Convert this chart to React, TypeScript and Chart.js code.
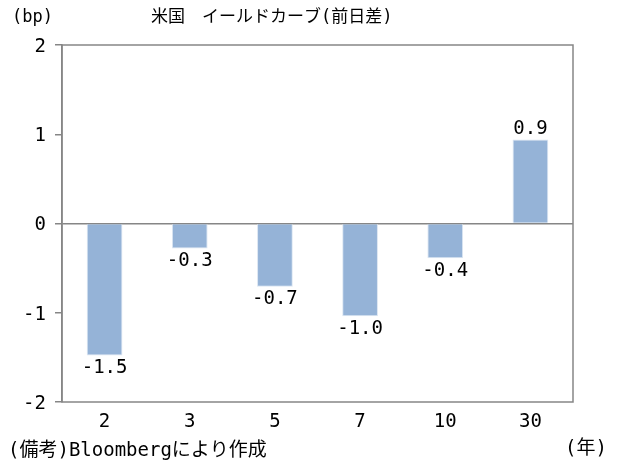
import React, { useEffect, useRef } from "react";
import { Chart, registerables } from "chart.js";

Chart.register(...registerables);

const categories = ["2", "3", "5", "7", "10", "30"];
const changes = [-1.48, -0.28, -0.71, -1.04, -0.39, 0.94];
const yTicks = [2, 1, 0, -1, -2];
const titleText = "米国　イールドカーブ(前日差)";
const unitText = "(bp)";
const noteText = "(備考)Bloombergにより作成";
const xUnitText = "(年)";

const FONT = "'DejaVu Sans Mono', 'Noto Sans CJK JP', monospace";

const textPlugin = {
  id: "textPlugin",
  afterDraw(chart: any) {
    const ctx = chart.ctx;
    const area = chart.chartArea;
    ctx.save();
    ctx.strokeStyle = "#868686";
    ctx.lineWidth = 1.5;
    ctx.strokeRect(area.left, area.top, area.right - area.left, area.bottom - area.top);
    ctx.fillStyle = "#000";
    ctx.textBaseline = "middle";
    ctx.textAlign = "left";
    ctx.font = `17px ${FONT}`;
    ctx.fillText(unitText, 12, 18);
    ctx.fillText(titleText, 151, 18);
    ctx.font = `19px ${FONT}`;
    ctx.fillText(noteText, 8, 451);
    ctx.fillText(xUnitText, 565, 449);
    ctx.textAlign = "center";
    const meta = chart.getDatasetMeta(0);
    meta.data.forEach((el: any, i: number) => {
      const v = changes[i];
      const txt = v.toFixed(1);
      if (v < 0) {
        ctx.textBaseline = "top";
        ctx.fillText(txt, el.x, el.y + 3);
      } else {
        ctx.textBaseline = "bottom";
        ctx.fillText(txt, el.x, el.y - 1);
      }
    });
    ctx.restore();
  },
};

export default function App() {
  const ref = useRef<HTMLCanvasElement>(null);
  useEffect(() => {
    document.body.style.margin = "0";
    const chart = new Chart(ref.current!, {
      type: "bar",
      data: {
        labels: categories,
        datasets: [
          {
            data: changes,
            backgroundColor: "#95B3D7",
            borderColor: "#DCE6F2",
            borderWidth: 1,
            barPercentage: 0.42,
            categoryPercentage: 1,
          },
        ],
      },
      options: {
        animation: false,
        responsive: false,
        devicePixelRatio: 1,
        layout: { padding: { left: 0, right: 52, top: 45, bottom: 0 } },
        plugins: {
          legend: { display: false },
          title: { display: false },
          tooltip: { enabled: false },
        },
        scales: {
          x: {
            grid: { display: false },
            border: { display: false },
            ticks: {
              color: "#000",
              font: { family: FONT, size: 19 },
              padding: 1,
            },
            afterFit: (s: any) => {
              s.height = 72;
            },
          },
          y: {
            min: -2,
            max: 2,
            afterBuildTicks: (s: any) => {
              s.ticks = yTicks.map((v) => ({ value: v }));
            },
            grid: {
              color: (c: any) => (c.tick && c.tick.value === 0 ? "#868686" : "transparent"),
              tickColor: "#868686",
              tickLength: 7,
              lineWidth: 1.5,
            },
            border: { color: "#868686", width: 1.5 },
            ticks: {
              color: "#000",
              font: { family: FONT, size: 19 },
              padding: 9,
              labelOffset: 2,
              callback: (v: any) => String(v),
            },
            afterFit: (s: any) => {
              s.width = 62;
            },
          },
        },
      },
      plugins: [textPlugin],
    });
    return () => chart.destroy();
  }, []);
  return <canvas ref={ref} width={625} height={474} style={{ display: "block" }} />;
}
